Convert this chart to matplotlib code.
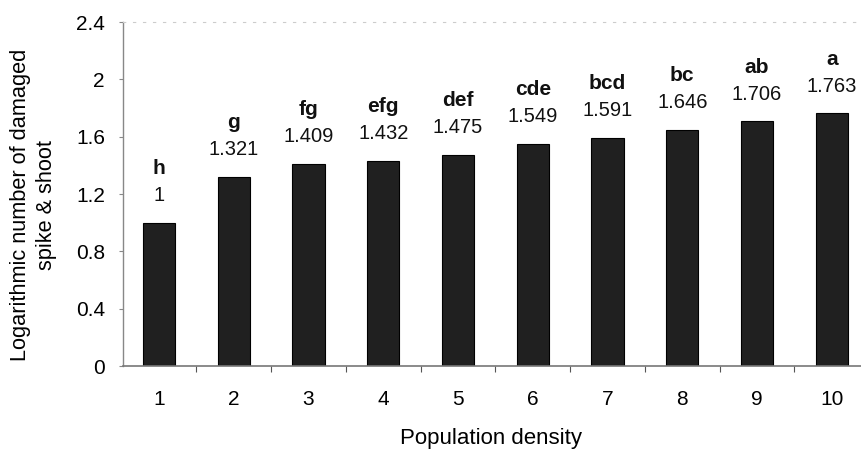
import matplotlib
matplotlib.use("Agg")
import matplotlib.pyplot as plt
import numpy as np

plt.rcParams['font.family'] = ['Liberation Sans', 'DejaVu Sans']

categories = ['1', '2', '3', '4', '5', '6', '7', '8', '9', '10']
values = [1.0, 1.321, 1.409, 1.432, 1.475, 1.549, 1.591, 1.646, 1.706, 1.763]
value_labels = ['1', '1.321', '1.409', '1.432', '1.475', '1.549', '1.591', '1.646', '1.706', '1.763']
letters = ['h', 'g', 'fg', 'efg', 'def', 'cde', 'bcd', 'bc', 'ab', 'a']
yticks = [0, 0.4, 0.8, 1.2, 1.6, 2.0, 2.4]
ytick_labels = ['0', '0.4', '0.8', '1.2', '1.6', '2', '2.4']

fig = plt.figure(figsize=(8.61, 4.5), dpi=100)
ax = fig.add_axes([123/861, 1-366/450, 1-123/861, 344/450])

x = np.arange(1, len(categories)+1)
ax.bar(x, values, width=0.43, color='#202020', edgecolor='#000000', linewidth=0.8, zorder=2)

for xi, v, vl, lt in zip(x, values, value_labels, letters):
    ax.annotate(vl, (xi, v), xytext=(0, 19.5), textcoords='offset points',
                ha='center', va='center', fontsize=14.5, color='#111111')
    ax.annotate(lt, (xi, v), xytext=(0, 39), textcoords='offset points',
                ha='center', va='center', fontsize=15, fontweight='bold', color='#111111')

ax.set_xlim(0.52, 10.39)
ax.set_ylim(0, 2.4)
ax.set_yticks(yticks)
ax.set_yticklabels(ytick_labels, fontsize=15)
ax.set_xticks(x)
ax.set_xticklabels(categories, fontsize=15)
ax.tick_params(axis='x', length=0, pad=17)
ax.set_xticks(np.arange(1.5, 10.5, 1), minor=True)
ax.tick_params(axis='x', which='minor', length=4, color='#555555', width=0.8)
ax.tick_params(axis='y', length=3, color='#888888', width=0.8, pad=10)

ax.spines['right'].set_visible(False)
ax.spines['top'].set_visible(True)
ax.spines['top'].set_color('#cccccc')
ax.spines['top'].set_linestyle((0, (2, 7)))
ax.spines['top'].set_linewidth(0.8)
ax.spines['left'].set_color('#888888')
ax.spines['bottom'].set_color('#777777')
ax.spines['left'].set_linewidth(1.0)
ax.spines['bottom'].set_linewidth(1.2)

ax.set_ylabel('Logarithmic number of damaged\nspike & shoot', fontsize=15.7, linespacing=1.3,
              va='center')
ax.yaxis.set_label_coords(-0.121, 0.468)
ax.set_xlabel('Population density', fontsize=16, va='center')
ax.xaxis.set_label_coords(0.4987, -0.212)

fig.savefig('out.png', dpi=100)
